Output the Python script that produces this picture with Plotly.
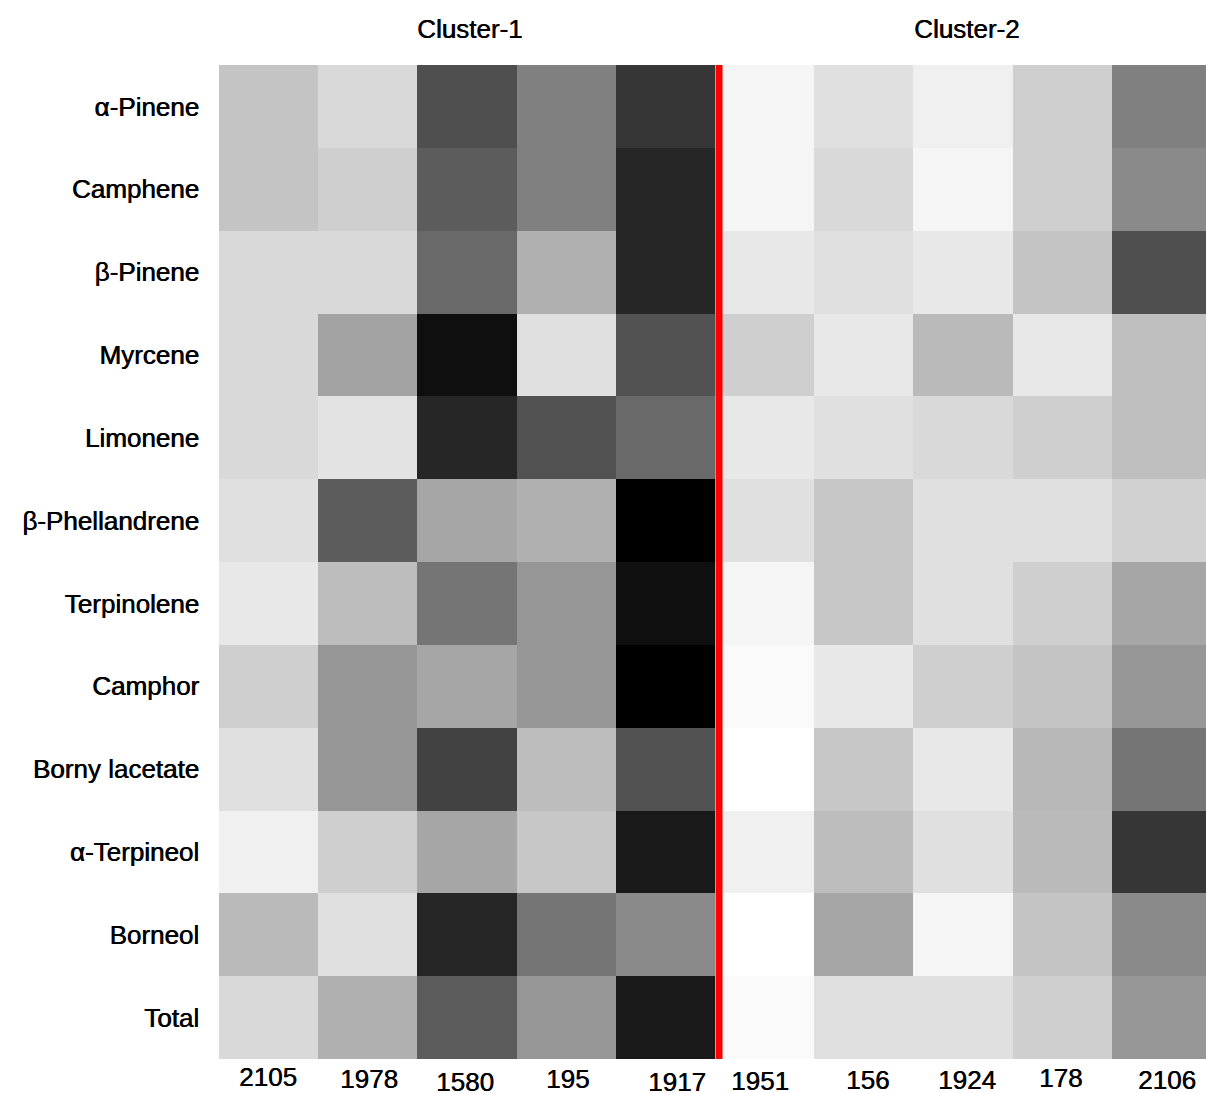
import plotly.graph_objects as go

# Accessions (columns) and compounds (rows)
accessions = ["2105", "1978", "1580", "195", "1917", "1951", "156", "1924", "178", "2106"]
compounds = ["α-Pinene", "Camphene", "β-Pinene", "Myrcene", "Limonene", "β-Phellandrene",
             "Terpinolene", "Camphor", "Borny lacetate", "α-Terpineol", "Borneol", "Total"]
clusters = ["Cluster-1", "Cluster-2"]

# Relative content per compound (0 = lowest, 100 = highest), one list per row
alpha_pinene = [23, 15, 69, 50, 79, 4, 12, 6, 19, 50]
camphene = [23, 19, 64, 50, 85, 4, 15, 4, 19, 46]
beta_pinene = [15, 15, 59, 31, 85, 9, 12, 9, 23, 69]
myrcene = [15, 36, 94, 12, 68, 19, 9, 27, 9, 25]
limonene = [15, 11, 85, 68, 59, 9, 12, 15, 19, 25]
beta_phellandrene = [12, 64, 35, 31, 100, 12, 22, 12, 12, 18]
terpinolene = [9, 26, 54, 41, 94, 4, 22, 12, 19, 35]
camphor = [19, 41, 35, 41, 100, 2, 9, 19, 23, 41]
bornyl_acetate = [12, 41, 74, 26, 68, 0, 22, 9, 28, 54]
alpha_terpineol = [6, 19, 35, 22, 90, 6, 26, 12, 27, 79]
borneol = [27, 12, 85, 54, 46, 0, 35, 4, 23, 46]
total = [15, 31, 64, 41, 90, 2, 12, 12, 19, 41]

z = [alpha_pinene, camphene, beta_pinene, myrcene, limonene, beta_phellandrene,
     terpinolene, camphor, bornyl_acetate, alpha_terpineol, borneol, total]

FONT = "Liberation Sans, Arial, sans-serif"
FS = 26
# slight horizontal shadow gives the labels a heavier stroke
SHADOW = "0.6px 0 0 #000"
label_font = dict(family=FONT, size=FS, color="black", shadow=SHADOW)

fig = go.Figure(go.Heatmap(
    z=z,
    x=list(range(len(accessions))),
    y=compounds,
    zmin=0, zmax=100,
    colorscale=[[0, "rgb(255,255,255)"], [1, "rgb(0,0,0)"]],
    showscale=False,
    hoverinfo="skip",
))

# Column labels under the grid, each nudged a little as typeset
label_dx = [-0.5, 1, -2, 1, 11.5, -5, 4, 4, -2, 6]
label_dy = [-18, -20, -23, -20, -23, -22, -21, -21, -19, -21]
for i, name in enumerate(accessions):
    fig.add_annotation(x=i, y=0, xref="x", yref="paper", text=name, showarrow=False,
                       xanchor="center", yanchor="middle",
                       xshift=label_dx[i], yshift=label_dy[i],
                       font=label_font)

# Cluster headings
for xc, name in zip([2.025, 7.037], clusters):
    fig.add_annotation(x=xc, y=1, xref="x", yref="paper", text=name, showarrow=False,
                       xanchor="center", yanchor="middle", yshift=36,
                       font=label_font)

# Divider between the two clusters
fig.add_shape(type="line", xref="x", yref="paper", x0=4.541, x1=4.541, y0=0, y1=1,
              line=dict(color="#ff0000", width=7))

fig.update_xaxes(range=[-0.5, 9.45], showticklabels=False, showgrid=False,
                 zeroline=False, ticks="")
fig.update_yaxes(autorange="reversed", showgrid=False, zeroline=False, ticks="",
                 ticklabelstandoff=19,
                 tickfont=label_font)

fig.update_layout(
    width=1206, height=1093,
    margin=dict(l=219, r=0, t=65, b=34, pad=0),
    plot_bgcolor="white", paper_bgcolor="white",
    font=dict(family=FONT, size=FS, color="black"),
)

fig.write_html("out.html")
